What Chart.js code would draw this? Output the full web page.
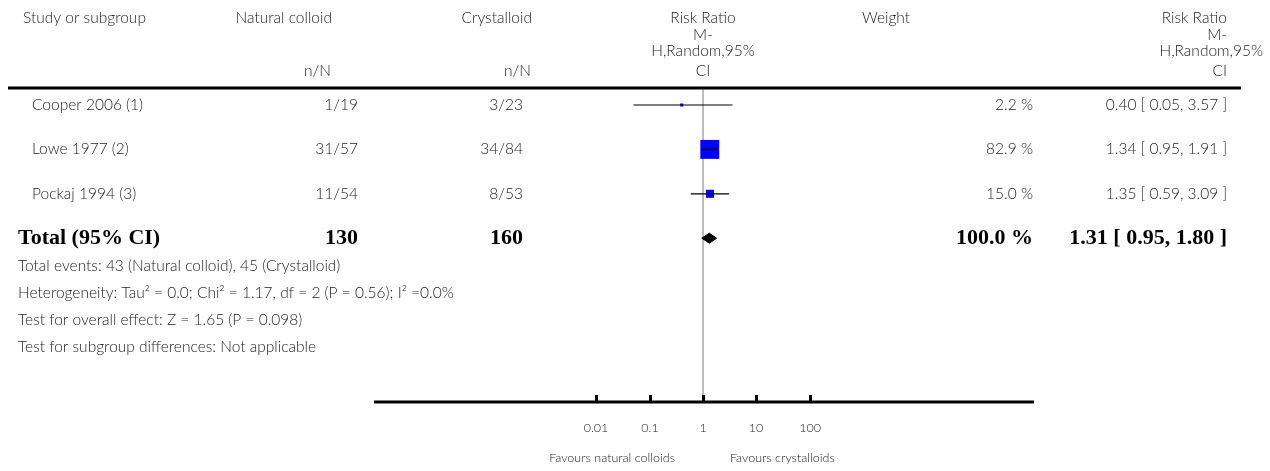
<!DOCTYPE html>
<html>
<head>
<meta charset="utf-8">
<script src="https://cdn.jsdelivr.net/npm/chart.js@4.4.1/dist/chart.umd.min.js"></script>
<style>
  html, body { margin: 0; padding: 0; background: #ffffff; }
  #wrap { position: relative; width: 1270px; height: 471px; }
</style>
</head>
<body>
<div id="wrap"><canvas id="c" width="1270" height="471"></canvas></div>
<script>
// ---------- data ----------
const studies = ['Cooper 2006 (1)', 'Lowe 1977 (2)', 'Pockaj 1994 (3)'];
const naturalColloid = ['1/19', '31/57', '11/54'];
const crystalloid = ['3/23', '34/84', '8/53'];
const riskRatio = [0.40, 1.34, 1.35];
const ciLow = [0.05, 0.95, 0.59];
const ciHigh = [3.57, 1.91, 3.09];
const weights = [2.2, 82.9, 15.0];
const rrLabels = ['0.40 [ 0.05, 3.57 ]', '1.34 [ 0.95, 1.91 ]', '1.35 [ 0.59, 3.09 ]'];

const totalLabel = 'Total (95% CI)';
const totalN = ['130', '160'];
const totalRR = 1.31;
const totalLow = 0.95;
const totalHigh = 1.80;
const totalWeight = 100.0;
const totalRRLabel = '1.31 [ 0.95, 1.80 ]';

const footnotes = [
  'Total events: 43 (Natural colloid), 45 (Crystalloid)',
  'Heterogeneity: Tau\u00B2 = 0.0; Chi\u00B2 = 1.17, df = 2 (P = 0.56); I\u00B2 =0.0%',
  'Test for overall effect: Z = 1.65 (P = 0.098)',
  'Test for subgroup differences: Not applicable'
];

const tickValues = [0.01, 0.1, 1, 10, 100];
const tickLabels = ['0.01', '0.1', '1', '10', '100'];
const favourLeft = 'Favours natural colloids';
const favourRight = 'Favours crystalloids';

// ---------- layout constants ----------
const W = 1270, H = 471;
const headerLineY = 88;
const axisY = 402;
const rowY0 = 105, rowStep = 44.4;
const pxPerDecade = 53.4;
const oneX = 703;
const axisLeftPx = 374, axisRightPx = 1034;

const SANS = '"Lato", "Open Sans", sans-serif';
const SERIF = '"Liberation Serif", "DejaVu Serif", serif';
const TXT = '#222';

// scale ranges derived from layout
const xMin = Math.pow(10, -(oneX - axisLeftPx) / pxPerDecade);
const xMax = Math.pow(10, (axisRightPx - oneX) / pxPerDecade);
const yMin = (headerLineY - rowY0) / rowStep;
const yMax = (axisY - rowY0) / rowStep;
const totalRow = studies.length;
const diamondHalf = 5 / rowStep;

// ---------- datasets ----------
const datasets = [];
studies.forEach((s, i) => {
  datasets.push({
    type: 'line',
    data: [{x: ciLow[i], y: i}, {x: ciHigh[i], y: i}],
    borderColor: '#000', borderWidth: 1.2, pointRadius: 0, showLine: true,
    fill: false, order: 0
  });
});
datasets.push({
  type: 'scatter',
  data: studies.map((s, i) => ({x: riskRatio[i], y: i})),
  pointStyle: 'rect',
  pointRadius: weights.map(w => 13.4 * Math.sqrt(w / 82.9)),
  backgroundColor: '#0000ff', borderColor: '#0000ff', borderWidth: 0,
  order: 2
});
datasets.push({
  type: 'line',
  data: [
    {x: totalLow, y: totalRow}, {x: totalRR, y: totalRow - diamondHalf},
    {x: totalHigh, y: totalRow}, {x: totalRR, y: totalRow + diamondHalf},
    {x: totalLow, y: totalRow}
  ],
  borderColor: '#000', borderWidth: 1, backgroundColor: '#000',
  pointRadius: 0, showLine: true, fill: 'shape', tension: 0, order: 1
});
datasets.push({
  type: 'line',
  data: [{x: 1, y: yMin}, {x: 1, y: yMax}],
  borderColor: '#a6a6a6', borderWidth: 1.5, pointRadius: 0, showLine: true,
  fill: false, order: 3
});

function txt(ctx, s, x, y, align, font, color) {
  ctx.font = font;
  ctx.fillStyle = color || TXT;
  ctx.textAlign = align;
  ctx.textBaseline = 'middle';
  ctx.fillText(s, x, y);
}

const tablePlugin = {
  id: 'table',
  afterDraw(chart) {
    const ctx = chart.ctx;
    const xs = chart.scales.x, ys = chart.scales.y;
    ctx.save();
    const f = '300 15.5px ' + SANS;
    // header
    txt(ctx, 'Study or subgroup', 23, 18, 'left', f);
    txt(ctx, 'Natural colloid', 332, 18, 'right', f);
    txt(ctx, 'Crystalloid', 532, 18, 'right', f);
    txt(ctx, 'n/N', 331, 71, 'right', f);
    txt(ctx, 'n/N', 531, 71, 'right', f);
    const rrHead = ['Risk Ratio', 'M-', 'H,Random,95%', 'CI'];
    const hy = [18, 34.5, 51, 71];
    rrHead.forEach((s, k) => txt(ctx, s, oneX, hy[k], 'center', f));
    txt(ctx, 'Weight', 886, 18, 'center', f);
    const rightEdge = [1227, 1227, 1263, 1227];
    rrHead.forEach((s, k) => txt(ctx, s, rightEdge[k], hy[k], 'right', f));

    // header line
    ctx.fillStyle = '#000';
    ctx.fillRect(8, headerLineY - 1.5, 1233, 3);

    // study rows
    studies.forEach((s, i) => {
      const y = ys.getPixelForValue(i);
      txt(ctx, s, 32, y, 'left', f);
      txt(ctx, naturalColloid[i], 358, y, 'right', f);
      txt(ctx, crystalloid[i], 523, y, 'right', f);
      txt(ctx, weights[i].toFixed(1) + ' %', 1033, y, 'right', f);
      txt(ctx, rrLabels[i], 1227, y, 'right', f);
    });
    // total row
    const ty = ys.getPixelForValue(totalRow);
    const fb = 'bold 22px ' + SERIF;
    txt(ctx, totalLabel, 18, ty, 'left', fb, '#000');
    txt(ctx, totalN[0], 358, ty, 'right', fb, '#000');
    txt(ctx, totalN[1], 523, ty, 'right', fb, '#000');
    txt(ctx, totalWeight.toFixed(1) + ' %', 1033, ty, 'right', fb, '#000');
    txt(ctx, totalRRLabel, 1227, ty, 'right', fb, '#000');

    // footnotes
    const fy = [266, 293, 320, 347];
    footnotes.forEach((s, k) => txt(ctx, s, 18, fy[k], 'left', f));

    // axis line
    ctx.fillStyle = '#000';
    ctx.fillRect(xs.left, axisY - 1.5, xs.right - xs.left, 3);
    tickValues.forEach((v, k) => {
      const px = Math.round(xs.getPixelForValue(v));
      ctx.fillStyle = '#000';
      ctx.fillRect(px - 1, axisY - 7, 3, 6);
      txt(ctx, tickLabels[k], px, 428, 'center', '300 12.5px ' + SANS);
    });
    txt(ctx, favourLeft, oneX - 28, 458, 'right', '300 12.5px ' + SANS);
    txt(ctx, favourRight, oneX + 27, 458, 'left', '300 12.5px ' + SANS);
    ctx.restore();
  }
};

new Chart(document.getElementById('c'), {
  data: { datasets },
  options: {
    responsive: false,
    animation: false,
    devicePixelRatio: 1,
    layout: { padding: { left: axisLeftPx, right: W - axisRightPx, top: headerLineY, bottom: H - axisY } },
    plugins: { legend: { display: false }, tooltip: { enabled: false } },
    scales: {
      x: { type: 'logarithmic', min: xMin, max: xMax, display: false },
      y: { type: 'linear', min: yMin, max: yMax, reverse: true, display: false }
    }
  },
  plugins: [tablePlugin]
});
</script>
</body>
</html>
